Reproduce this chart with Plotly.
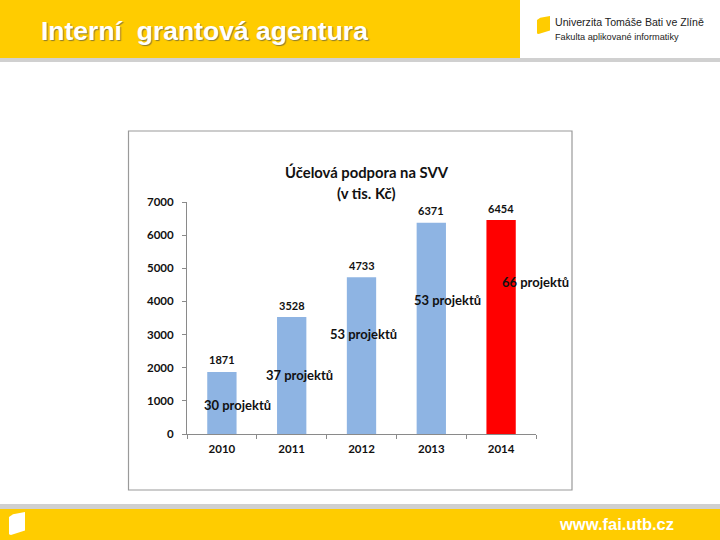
import plotly.graph_objects as go

# chart data
years = ["2010", "2011", "2012", "2013", "2014"]
support = [1871, 3528, 4733, 6371, 6454]
projects = [30, 37, 53, 53, 66]
bar_colors = ["#8eb4e3", "#8eb4e3", "#8eb4e3", "#8eb4e3", "#ff0000"]
y_ticks = [0, 1000, 2000, 3000, 4000, 5000, 6000, 7000]

W, H = 720, 540
YELLOW = "#ffcc00"
GREY = "#d0d0d0"
CHART_FONT = "Lato"
TEXT = "#111111"


# slide pixels -> paper coordinates
def px(x):
    return x / W


def py(y):
    return 1 - y / H


def rect(x0, y0, x1, y1, fill, line=None, width=0):
    return dict(type="rect", xref="paper", yref="paper", layer="below",
                x0=px(x0), x1=px(x1), y0=py(y1), y1=py(y0), fillcolor=fill,
                line=dict(color=line, width=width) if line else dict(width=0))


def book(x, y, w, h, fill):
    # little book icon of the university logo
    pts = [(x, y + 0.22 * h), (x + 0.25 * w, y + 0.1 * h), (x + w, y), (x + w, y + 0.8 * h),
           (x + 0.12 * w, y + h), (x, y + 0.97 * h)]
    path = "M " + " L ".join(f"{px(a):.5f},{py(b):.5f}" for a, b in pts) + " Z"
    return dict(type="path", xref="paper", yref="paper", path=path, fillcolor=fill, line=dict(width=0))


def label(x, y, text, size, color=TEXT, family=CHART_FONT, weight="bold", anchor="center", shadow="none"):
    return dict(xref="paper", yref="paper", x=px(x), y=py(y), text=text, showarrow=False,
                xanchor=anchor, yanchor="middle",
                font=dict(family=family, size=size, color=color, weight=weight, shadow=shadow))


fig = go.Figure()
fig.add_trace(go.Bar(x=years, y=support, width=0.42, marker=dict(color=bar_colors, line=dict(width=0))))

shapes = [
    rect(0, 0, 520, 58, YELLOW),
    rect(0, 58, W, 62, GREY),
    rect(0, 504, W, 509, GREY),
    rect(0, 509, W, H, YELLOW),
    rect(128.5, 131, 572, 490, "#ffffff", "#9a9a9a", 1.2),
    book(537, 16, 13, 18, YELLOW),
    book(9, 512, 16, 23, "#ffffff"),
]

annotations = [
    label(39, 31, "Interní  grantová agentura", 26.5, "#ffffff", "Liberation Sans", anchor="left",
          shadow="1px 1px 1px #8a7a30"),
    label(553, 22, "Univerzita Tomáše Bati ve Zlíně", 10.6, "#222222", "Liberation Sans", "normal", "left"),
    label(553, 37, "Fakulta aplikované informatiky", 9.2, "#222222", "Liberation Sans", "normal", "left"),
    label(616, 524, "www.fai.utb.cz", 16.5, "#ffffff", "Liberation Sans"),
    label(367, 172, "Účelová podpora na SVV", 14.8),
    label(366, 193, "(v tis. Kč)", 14.8),
]

# value labels above the bars (numeric-looking categories, so use the index)
for i, val in enumerate(support):
    annotations.append(dict(xref="x", yref="y", x=i, y=val, yshift=12, text=str(val), showarrow=False,
                            xanchor="center", yanchor="middle",
                            font=dict(family=CHART_FONT, size=11, color=TEXT, weight="bold")))

# "N projektů" labels sit loosely next to the bars
label_pos = [(237, 405), (299, 375), (363, 334), (447, 300), (535, 282)]
for n, (lx, ly) in zip(projects, label_pos):
    annotations.append(label(lx, ly, f"{n} projektů", 13))

fig.update_layout(
    width=W, height=H, autosize=False,
    margin=dict(l=0, r=0, t=0, b=0, autoexpand=False),
    paper_bgcolor="#ffffff", plot_bgcolor="rgba(0,0,0,0)",
    showlegend=False, shapes=shapes, annotations=annotations,
    xaxis=dict(domain=[px(187), px(536)], type="category", range=[-0.5, 4.5], tickson="boundaries",
               ticks="outside", automargin=False, tickangle=0,
               ticklen=4, tickcolor="#8a8a8a", showline=True, linecolor="#8a8a8a", linewidth=1,
               showgrid=False, ticklabelstandoff=4,
               tickfont=dict(family=CHART_FONT, size=11.5, color=TEXT, weight="bold")),
    yaxis=dict(domain=[py(434), py(202)], range=[0, 7000], tickvals=y_ticks, ticks="outside",
               automargin=False,
               ticklen=4, tickcolor="#8a8a8a", showline=True, linecolor="#8a8a8a", linewidth=1,
               showgrid=False, zeroline=False, ticklabelstandoff=6,
               tickfont=dict(family=CHART_FONT, size=11.5, color=TEXT, weight="bold")),
)

# the page's default body margin would push the slide out of the window
fig.write_html("out.html", config={"displayModeBar": False},
               post_script="document.body.style.margin='0';document.body.style.overflow='hidden';")
